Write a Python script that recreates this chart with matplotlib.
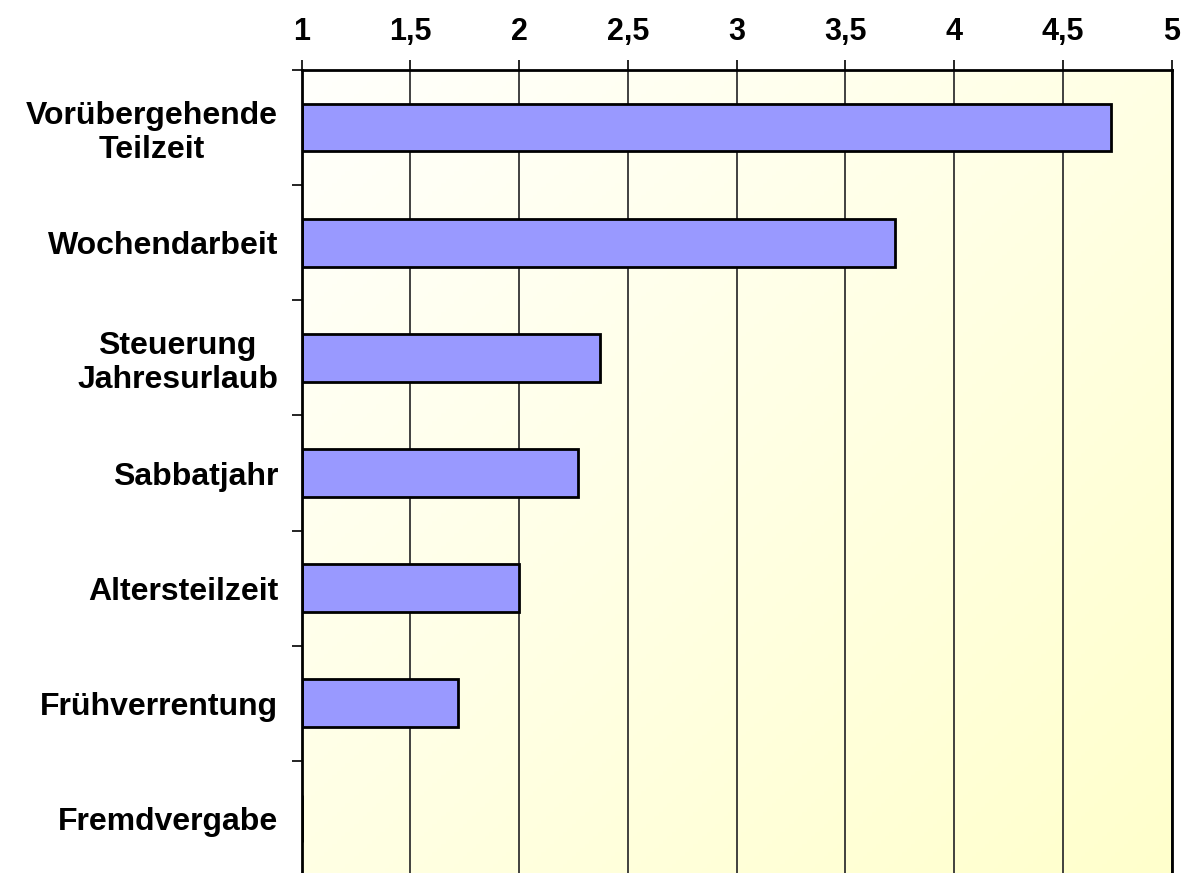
import numpy as np
import matplotlib
matplotlib.use("Agg")
import matplotlib.pyplot as plt
from matplotlib.colors import LinearSegmentedColormap

categories = ["Vorübergehende\nTeilzeit", "Wochendarbeit", "Steuerung\nJahresurlaub",
              "Sabbatjahr", "Altersteilzeit", "Frühverrentung", "Fremdvergabe"]
values = [4.72, 3.73, 2.37, 2.27, 2.0, 1.72, 1.0]
xticks = [1, 1.5, 2, 2.5, 3, 3.5, 4, 4.5, 5]
xticklabels = ["1", "1,5", "2", "2,5", "3", "3,5", "4", "4,5", "5"]

plt.rcParams['font.family'] = ['Liberation Sans', 'DejaVu Sans']

fig = plt.figure(figsize=(11.96, 8.73), dpi=100)
ax = fig.add_axes([301.7/1196, -3/873, (1171.7-301.7)/1196, (876-70)/873])

# gradient background: white top-left -> light yellow bottom-right
g = np.linspace(0, 1, 200)
X, Y = np.meshgrid(g, g)
grad = (X + Y) / 2
cmap = LinearSegmentedColormap.from_list("bg", ["#FFFFFC", "#FFFFCC"])
ax.imshow(grad, cmap=cmap, extent=[0, 1, 0, 1], transform=ax.transAxes,
          aspect='auto', zorder=0, origin='upper')

n = len(categories)
ypos = np.arange(n)
ax.barh(ypos, [v - 1 for v in values], left=1, height=0.415, color="#9999FF",
        edgecolor="black", linewidth=2, zorder=3)

ax.set_xlim(1, 5)
ax.set_ylim(n - 0.5, -0.5)
ax.xaxis.tick_top()
ax.set_xticks(xticks)
ax.set_xticklabels(xticklabels, fontsize=22, fontweight='bold')
ax.tick_params(axis='x', direction='out', length=7.5, width=1.2, pad=9, colors='black')
ax.grid(axis='x', color='#333333', linewidth=1.3, zorder=1)

ax.set_yticks(ypos)
ax.set_yticklabels(categories, fontsize=23, fontweight='bold', ha='right',
                   multialignment='center', linespacing=1.15)
ax.tick_params(axis='y', which='major', length=0, pad=17)
ax.set_yticks(np.arange(n + 1) - 0.5, minor=True)
ax.tick_params(axis='y', which='minor', direction='out', length=7.5, width=1.2)

for s in ax.spines.values():
    s.set_linewidth(2)
    s.set_color('black')
    s.set_zorder(4)

fig.savefig("out.png", dpi=100)
